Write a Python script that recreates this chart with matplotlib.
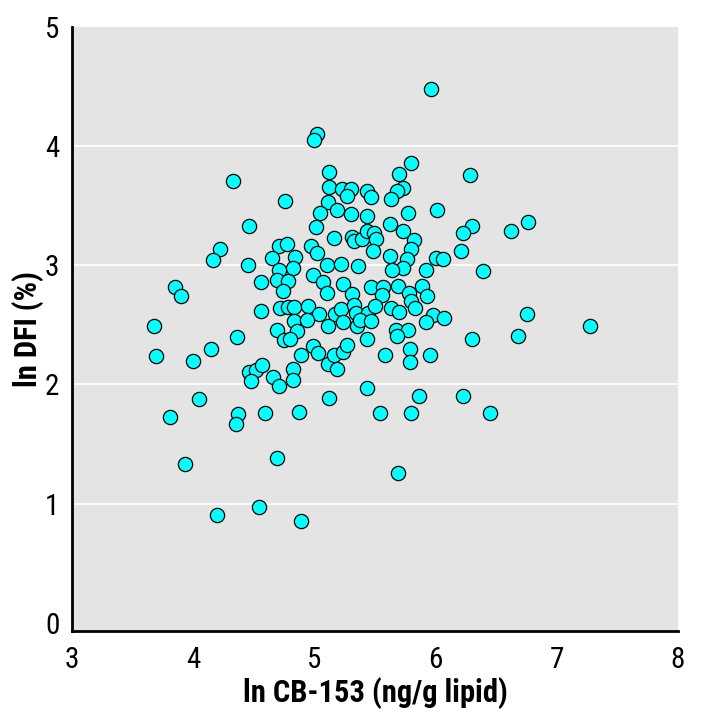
import numpy as np
import matplotlib
matplotlib.use("Agg")
import matplotlib.pyplot as plt

# ln CB-153 (x) and ln DFI (y)
cb153 = [5.96, 5.02, 5.00, 5.80, 5.12, 5.70, 6.28, 4.33, 5.12, 5.23,
         5.30, 5.27, 5.43, 5.47, 5.73, 5.68, 5.63, 4.76, 5.11, 5.05,
         5.19, 5.30, 5.43, 5.77, 6.01, 4.46, 5.01, 5.62, 5.73, 6.30,
         6.23, 6.62, 6.76, 5.16, 5.31, 5.33, 5.39, 5.43, 5.49, 5.51,
         5.82, 5.80, 5.48, 4.22, 4.16, 4.71, 4.77, 4.97, 5.02, 4.65,
         4.84, 4.82, 4.45, 4.71, 5.10, 5.22, 5.36, 5.62, 5.76, 5.73,
         5.64, 5.92, 6.00, 6.06, 6.21, 6.39, 4.99, 5.07, 4.56, 4.69,
         4.78, 4.74, 5.10, 5.24, 5.31, 5.47, 5.57, 5.69, 5.89, 5.56,
         5.78, 5.93, 5.80, 3.85, 3.90, 3.68, 4.56, 4.72, 4.78, 4.83,
         4.95, 5.04, 5.17, 5.22, 5.33, 5.34, 5.44, 5.50, 5.63, 5.70,
         5.83, 5.98, 6.07, 5.92, 6.75, 4.83, 4.94, 5.24, 5.35, 5.38,
         5.47, 5.11, 4.69, 4.86, 5.67, 5.77, 5.68, 7.27, 4.36, 4.75,
         4.80, 5.43, 6.30, 6.68, 3.69, 4.00, 4.15, 4.46, 4.52, 4.57,
         4.48, 4.66, 4.71, 4.82, 4.82, 4.89, 4.99, 5.03, 5.11, 5.16,
         5.24, 5.27, 5.19, 5.58, 5.79, 5.79, 5.95, 5.43, 5.12, 5.86,
         6.23, 4.05, 3.81, 4.37, 4.35, 4.59, 4.87, 5.54, 5.80, 6.45,
         3.93, 4.69, 5.69, 4.54, 4.20, 4.89]
dfi = [4.48, 4.10, 4.05, 3.86, 3.78, 3.77, 3.76, 3.71, 3.66, 3.64,
       3.64, 3.58, 3.62, 3.57, 3.65, 3.62, 3.56, 3.54, 3.53, 3.44,
       3.46, 3.43, 3.41, 3.44, 3.46, 3.33, 3.32, 3.35, 3.29, 3.33,
       3.27, 3.29, 3.36, 3.23, 3.24, 3.20, 3.22, 3.29, 3.27, 3.22,
       3.21, 3.14, 3.12, 3.14, 3.04, 3.16, 3.18, 3.16, 3.10, 3.06,
       3.07, 2.98, 3.00, 2.96, 3.00, 3.01, 2.99, 3.08, 3.05, 2.98,
       2.96, 2.96, 3.06, 3.05, 3.12, 2.95, 2.92, 2.86, 2.86, 2.88,
       2.87, 2.78, 2.77, 2.84, 2.76, 2.82, 2.82, 2.83, 2.83, 2.75,
       2.77, 2.74, 2.70, 2.82, 2.74, 2.49, 2.62, 2.64, 2.65, 2.65,
       2.66, 2.59, 2.59, 2.63, 2.67, 2.60, 2.60, 2.66, 2.64, 2.61,
       2.64, 2.58, 2.56, 2.52, 2.59, 2.53, 2.54, 2.52, 2.49, 2.54,
       2.53, 2.49, 2.46, 2.45, 2.46, 2.46, 2.41, 2.49, 2.40, 2.37,
       2.38, 2.38, 2.38, 2.41, 2.24, 2.20, 2.30, 2.10, 2.12, 2.16,
       2.03, 2.06, 1.99, 2.13, 2.04, 2.25, 2.32, 2.26, 2.17, 2.25,
       2.27, 2.33, 2.13, 2.25, 2.30, 2.19, 2.25, 1.97, 1.89, 1.90,
       1.90, 1.88, 1.73, 1.75, 1.67, 1.76, 1.77, 1.76, 1.76, 1.76,
       1.33, 1.38, 1.26, 0.97, 0.90, 0.85]

x_ticks = [3, 4, 5, 6, 7, 8]
y_ticks = [0, 1, 2, 3, 4, 5]

plt.rcParams['font.family'] = ['Roboto Condensed', 'Liberation Sans Narrow',
                               'Liberation Sans', 'DejaVu Sans']
plt.rcParams['font.stretch'] = 'condensed'

fig = plt.figure(figsize=(7.02, 7.18), dpi=100)
ax = fig.add_axes([72/702, 87/718, 606/702, 604/718])
ax.set_facecolor('#e4e4e4')

for v in [1, 2, 3, 4]:
    ax.axhline(v, color='white', lw=1.2, zorder=1)

ax.scatter(cb153, dfi, s=105, c='#00ffff', edgecolors='black',
           linewidths=0.9, zorder=3)

ax.set_xlim(3, 8)
ax.set_ylim(-0.07, 5)
ax.set_xticks(x_ticks)
ax.set_yticks(y_ticks)
ax.tick_params(length=0, labelsize=21)
ax.tick_params(axis='x', pad=11)
ax.tick_params(axis='y', pad=9)

for s in ['top', 'right']:
    ax.spines[s].set_visible(False)
for s in ['left', 'bottom']:
    ax.spines[s].set_linewidth(2)

ax.set_xlabel('ln CB-153 (ng/g lipid)', fontsize=22, fontweight='bold', labelpad=2)
ax.set_ylabel('ln DFI (%)', fontsize=22, fontweight='bold', labelpad=1)

fig.savefig('out.png', dpi=100)
